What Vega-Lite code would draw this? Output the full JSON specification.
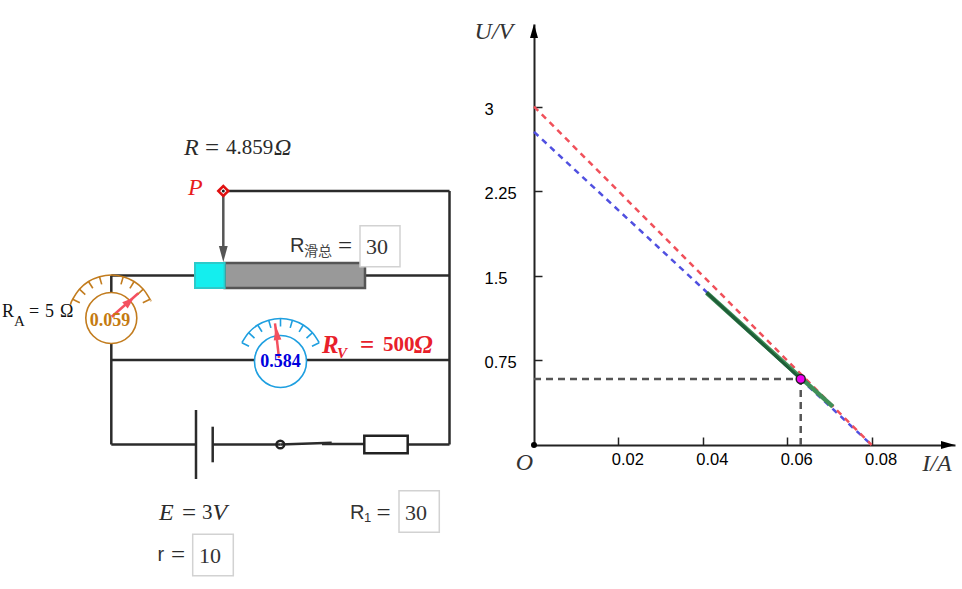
{
  "$schema": "https://vega.github.io/schema/vega-lite/v6.json",
  "description": "Rheostat circuit with ammeter and voltmeter beside its U-I graph",
  "width": 962,
  "height": 589,
  "padding": 0,
  "autosize": {"type": "fit", "contains": "padding"},
  "background": "white",
  "config": {"view": {"stroke": null}},
  "resolve": {"scale": {"x": "independent", "y": "independent"}},
  "datasets": {
    "wires": [
      {"u": 22.3, "v": 19.1, "u2": 44.95, "v2": 19.1},
      {"u": 44.95, "v": 19.1, "u2": 44.95, "v2": 44.45},
      {"u": 11.13, "v": 27.55, "u2": 19.5, "v2": 27.55},
      {"u": 36.5, "v": 27.55, "u2": 44.95, "v2": 27.55},
      {"u": 11.13, "v": 27.55, "u2": 11.13, "v2": 29.4},
      {"u": 11.13, "v": 34.3, "u2": 11.13, "v2": 44.45},
      {"u": 11.13, "v": 36.0, "u2": 25.45, "v2": 36.0},
      {"u": 30.65, "v": 36.0, "u2": 44.95, "v2": 36.0},
      {"u": 11.13, "v": 44.45, "u2": 19.6, "v2": 44.45},
      {"u": 19.6, "v": 41.0, "u2": 19.6, "v2": 47.9},
      {"u": 21.27, "v": 42.67, "u2": 21.27, "v2": 46.23},
      {"u": 21.27, "v": 44.45, "u2": 28.03, "v2": 44.45},
      {"u": 28.03, "v": 44.45, "u2": 33.17, "v2": 44.27},
      {"u": 32.2, "v": 44.4, "u2": 36.43, "v2": 44.4},
      {"u": 40.77, "v": 44.45, "u2": 44.95, "v2": 44.45}
    ],
    "slider": [{"u": 22.33, "v": 19.1, "u2": 22.33, "v2": 25}],
    "rheostat_bar": [{"u": 22.46, "v": 26.3, "u2": 36.5, "v2": 28.8}],
    "rheostat_part": [{"u": 19.5, "v": 26.3, "u2": 22.46, "v2": 28.8}],
    "slider_head": [{"u": 22.33, "v": 25.4}],
    "resistor": [{"u": 36.43, "v": 43.57, "u2": 40.77, "v2": 45.33}],
    "switch_pivot": [{"u": 28.03, "v": 44.45}],
    "p_node": [{"u": 22.33, "v": 19.1}],
    "input_boxes": [
      {"name": "R_total", "u": 36.0, "v": 22.57, "u2": 40.0, "v2": 26.67},
      {"name": "R1", "u": 39.9, "v": 49.07, "u2": 43.93, "v2": 53.23},
      {"name": "r", "u": 19.27, "v": 53.43, "u2": 23.33, "v2": 57.57}
    ],
    "ammeter_arc": [
      {"u": 7.04, "v": 30.47},
      {"u": 7.27, "v": 29.92},
      {"u": 7.94, "v": 28.92},
      {"u": 8.85, "v": 28.15},
      {"u": 9.95, "v": 27.67},
      {"u": 11.13, "v": 27.5},
      {"u": 12.32, "v": 27.67},
      {"u": 13.41, "v": 28.15},
      {"u": 14.33, "v": 28.92},
      {"u": 15.0, "v": 29.92},
      {"u": 15.06, "v": 30.05}
    ],
    "ammeter_ticks": [
      {"u": 7.27, "v": 29.92, "u2": 7.98, "v2": 30.27},
      {"u": 7.94, "v": 28.92, "u2": 8.53, "v2": 29.46},
      {"u": 8.85, "v": 28.15, "u2": 9.28, "v2": 28.83},
      {"u": 9.95, "v": 27.67, "u2": 10.17, "v2": 28.44},
      {"u": 12.32, "v": 27.67, "u2": 12.1, "v2": 28.44},
      {"u": 13.41, "v": 28.15, "u2": 12.99, "v2": 28.83},
      {"u": 14.33, "v": 28.92, "u2": 13.73, "v2": 29.46},
      {"u": 15.0, "v": 29.92, "u2": 14.28, "v2": 30.27}
    ],
    "ammeter_body": [{"u": 11.13, "v": 31.8}],
    "ammeter_needle": [{"u": 11.17, "v": 31.67, "u2": 13.83, "v2": 29.33}],
    "ammeter_head": [{"u": 12.95, "v": 30.15}],
    "voltmeter_arc": [
      {"u": 24.19, "v": 34.27},
      {"u": 24.86, "v": 33.27},
      {"u": 25.77, "v": 32.5},
      {"u": 26.87, "v": 32.02},
      {"u": 28.05, "v": 31.85},
      {"u": 29.24, "v": 32.02},
      {"u": 30.33, "v": 32.5},
      {"u": 31.25, "v": 33.27},
      {"u": 31.92, "v": 34.27}
    ],
    "voltmeter_ticks": [
      {"u": 24.19, "v": 34.27, "u2": 24.9, "v2": 34.62},
      {"u": 24.86, "v": 33.27, "u2": 25.45, "v2": 33.81},
      {"u": 25.77, "v": 32.5, "u2": 26.2, "v2": 33.18},
      {"u": 26.87, "v": 32.02, "u2": 27.09, "v2": 32.79},
      {"u": 28.05, "v": 31.85, "u2": 28.05, "v2": 32.65},
      {"u": 29.24, "v": 32.02, "u2": 29.02, "v2": 32.79},
      {"u": 30.33, "v": 32.5, "u2": 29.91, "v2": 33.18},
      {"u": 31.25, "v": 33.27, "u2": 30.65, "v2": 33.81},
      {"u": 31.92, "v": 34.27, "u2": 31.2, "v2": 34.62}
    ],
    "voltmeter_body": [{"u": 28.05, "v": 36.15}],
    "voltmeter_needle": [{"u": 27.9, "v": 35.8, "u2": 27.5, "v2": 32.33}],
    "voltmeter_head": [{"u": 27.67, "v": 33.3}],
    "math_italic": [
      {"u": 18.4, "v": 14.8, "label": "R"},
      {"u": 27.4, "v": 14.8, "label": "Ω"},
      {"u": 15.9, "v": 51.3, "label": "E"},
      {"u": 21.25, "v": 51.3, "label": "V"}
    ],
    "math_roman": [
      {"u": 22.6, "v": 14.8, "label": "4.859"},
      {"u": 20.2, "v": 51.3, "label": "3"}
    ],
    "math_equals": [
      {"u": 20.5, "v": 14.8, "label": "="},
      {"u": 18.2, "v": 51.3, "label": "="},
      {"u": 33.8, "v": 24.6, "label": "="},
      {"u": 37.65, "v": 51.3, "label": "="},
      {"u": 17.1, "v": 55.5, "label": "="}
    ],
    "box_values": [
      {"u": 37.7, "v": 24.7, "label": "30"},
      {"u": 41.6, "v": 51.27, "label": "30"},
      {"u": 21.0, "v": 55.6, "label": "10"}
    ],
    "sans_labels": [
      {"u": 29.0, "v": 24.6, "label": "R"},
      {"u": 35.0, "v": 51.3, "label": "R"},
      {"u": 15.75, "v": 55.5, "label": "r"}
    ],
    "sans_sub": [{"u": 36.77, "v": 51.77, "label": "1"}],
    "cjk_sub": [{"u": 30.4, "v": 25.2, "label": "滑总"}],
    "p_label": [{"u": 18.8, "v": 18.75, "label": "P"}],
    "rv_italic": [
      {"u": 32.2, "v": 34.5, "label": "R"},
      {"u": 41.4, "v": 34.5, "label": "Ω"}
    ],
    "rv_sub": [{"u": 33.7, "v": 35.3, "label": "V"}],
    "rv_equals": [{"u": 36.0, "v": 34.5, "label": "="}],
    "rv_roman": [{"u": 38.3, "v": 34.5, "label": "500"}],
    "ra_text": [
      {"u": 0.2, "v": 31.2, "label": "R"},
      {"u": 2.9, "v": 31.2, "label": "="},
      {"u": 4.5, "v": 31.2, "label": "5"},
      {"u": 6.0, "v": 31.2, "label": "Ω"}
    ],
    "ra_sub": [{"u": 1.4, "v": 32.1, "label": "A"}],
    "ammeter_value": [{"u": 11.0, "v": 32.1, "label": "0.059"}],
    "voltmeter_value": [{"u": 28.05, "v": 36.17, "label": "0.584"}],
    "red_line": [{"I": 0, "U": 3}, {"I": 0.08, "U": 0}],
    "blue_line": [{"I": 0, "U": 2.775}, {"I": 0.08, "U": 0}],
    "green_line": [{"I": 0.0409, "U": 1.35}, {"I": 0.0708, "U": 0.34}],
    "green_core": [{"I": 0.0409, "U": 1.35}, {"I": 0.0632, "U": 0.585}],
    "guide_h": [{"I": 0, "U": 0.585}, {"I": 0.0632, "U": 0.585}],
    "guide_v": [{"I": 0.0632, "U": 0}, {"I": 0.0632, "U": 0.585}],
    "operating_point": [{"I": 0.0632, "U": 0.585}],
    "origin": [{"I": 0, "U": 0}],
    "x_tip": [{"I": 0.0981, "U": 0}],
    "y_tip": [{"I": 0, "U": 3.67}],
    "axis_names": [
      {"I": -0.0095, "U": 3.66, "label": "U/V"},
      {"I": 0.0955, "U": -0.17, "label": "I/A"},
      {"I": -0.00225, "U": -0.16, "label": "O"}
    ]
  },
  "layer": [
    {
      "encoding": {
        "x": {"field": "u", "type": "quantitative", "axis": null, "scale": {"domain": [0, 96.2], "range": [0, 962], "nice": false, "zero": false}},
        "y": {"field": "v", "type": "quantitative", "axis": null, "scale": {"domain": [0, 58.9], "range": [0, 589], "nice": false, "zero": false}},
        "text": {"field": "label"}
      },
      "layer": [
        {"data": {"name": "wires"}, "mark": {"type": "rule", "stroke": "#2b2b2b", "strokeWidth": 2.5}, "encoding": {"x2": {"field": "u2"}, "y2": {"field": "v2"}}},
        {"data": {"name": "rheostat_bar"}, "mark": {"type": "rect", "fill": "#999999", "stroke": "#555555", "strokeWidth": 2.5}, "encoding": {"x2": {"field": "u2"}, "y2": {"field": "v2"}}},
        {"data": {"name": "rheostat_part"}, "mark": {"type": "rect", "fill": "#14eeee", "stroke": "#2ccaca", "strokeWidth": 2}, "encoding": {"x2": {"field": "u2"}, "y2": {"field": "v2"}}},
        {"data": {"name": "slider"}, "mark": {"type": "rule", "stroke": "#555555", "strokeWidth": 2.5}, "encoding": {"x2": {"field": "u2"}, "y2": {"field": "v2"}}},
        {"data": {"name": "slider_head"}, "mark": {"type": "point", "filled": true, "fill": "#555555", "opacity": 1, "size": 256, "shape": "M0,1L0.55,-1L-0.55,-1Z"}},
        {"data": {"name": "resistor"}, "mark": {"type": "rect", "fill": "white", "stroke": "#222222", "strokeWidth": 2.5}, "encoding": {"x2": {"field": "u2"}, "y2": {"field": "v2"}}},
        {"data": {"name": "switch_pivot"}, "mark": {"type": "point", "filled": false, "stroke": "#222222", "strokeWidth": 2.5, "opacity": 1, "size": 60, "shape": "circle"}},
        {"data": {"name": "p_node"}, "mark": {"type": "point", "filled": true, "fill": "white", "stroke": "#e01010", "strokeWidth": 2.5, "opacity": 1, "size": 100, "shape": "diamond"}},
        {"data": {"name": "p_node"}, "mark": {"type": "point", "filled": true, "fill": "#222222", "opacity": 1, "size": 9, "shape": "circle"}},
        {"data": {"name": "input_boxes"}, "mark": {"type": "rect", "fill": "white", "stroke": "#d2d2d2", "strokeWidth": 1.5}, "encoding": {"x2": {"field": "u2"}, "y2": {"field": "v2"}}},
        {"data": {"name": "ammeter_arc"}, "mark": {"type": "line", "stroke": "#c27c1e", "strokeWidth": 1.6, "interpolate": "cardinal"}},
        {"data": {"name": "ammeter_ticks"}, "mark": {"type": "rule", "stroke": "#c27c1e", "strokeWidth": 1.6}, "encoding": {"x2": {"field": "u2"}, "y2": {"field": "v2"}}},
        {"data": {"name": "ammeter_body"}, "mark": {"type": "point", "filled": true, "fill": "white", "stroke": "#c27c1e", "strokeWidth": 1.6, "opacity": 1, "size": 2601, "shape": "circle"}},
        {"data": {"name": "ammeter_needle"}, "mark": {"type": "rule", "stroke": "#f4505f", "strokeWidth": 2.5}, "encoding": {"x2": {"field": "u2"}, "y2": {"field": "v2"}}},
        {"data": {"name": "ammeter_head"}, "mark": {"type": "point", "filled": true, "fill": "#f4505f", "opacity": 1, "size": 144, "angle": 49, "shape": "M0,-1L0.7,1L-0.7,1Z"}},
        {"data": {"name": "voltmeter_arc"}, "mark": {"type": "line", "stroke": "#1e9fe0", "strokeWidth": 1.6, "interpolate": "cardinal"}},
        {"data": {"name": "voltmeter_ticks"}, "mark": {"type": "rule", "stroke": "#1e9fe0", "strokeWidth": 1.6}, "encoding": {"x2": {"field": "u2"}, "y2": {"field": "v2"}}},
        {"data": {"name": "voltmeter_body"}, "mark": {"type": "point", "filled": true, "fill": "white", "stroke": "#1e9fe0", "strokeWidth": 1.6, "opacity": 1, "size": 2704, "shape": "circle"}},
        {"data": {"name": "voltmeter_needle"}, "mark": {"type": "rule", "stroke": "#f4505f", "strokeWidth": 2.5}, "encoding": {"x2": {"field": "u2"}, "y2": {"field": "v2"}}},
        {"data": {"name": "voltmeter_head"}, "mark": {"type": "point", "filled": true, "fill": "#f4505f", "opacity": 1, "size": 196, "angle": -7, "shape": "M0,-1L0.55,1L-0.55,1Z"}},
        {"data": {"name": "math_italic"}, "mark": {"type": "text", "align": "left", "baseline": "middle", "font": "Liberation Serif", "fontStyle": "italic", "fontSize": 24, "color": "#2b2b2b"}},
        {"data": {"name": "math_roman"}, "mark": {"type": "text", "align": "left", "baseline": "middle", "font": "Liberation Serif", "fontSize": 21, "color": "#2b2b2b"}},
        {"data": {"name": "math_equals"}, "mark": {"type": "text", "align": "left", "baseline": "middle", "font": "Liberation Serif", "fontSize": 25, "color": "#2b2b2b"}},
        {"data": {"name": "box_values"}, "mark": {"type": "text", "align": "center", "baseline": "middle", "font": "Liberation Serif", "fontSize": 22, "color": "#333333"}},
        {"data": {"name": "sans_labels"}, "mark": {"type": "text", "align": "left", "baseline": "middle", "font": "Liberation Sans", "fontSize": 20, "color": "#333333"}},
        {"data": {"name": "sans_sub"}, "mark": {"type": "text", "align": "center", "baseline": "middle", "font": "Liberation Sans", "fontSize": 13, "color": "#333333"}},
        {"data": {"name": "cjk_sub"}, "mark": {"type": "text", "align": "left", "baseline": "middle", "font": "Noto Sans CJK SC", "fontSize": 14, "color": "#444444"}},
        {"data": {"name": "p_label"}, "mark": {"type": "text", "align": "left", "baseline": "middle", "font": "Liberation Serif", "fontStyle": "italic", "fontSize": 24, "color": "#e81c1c"}},
        {"data": {"name": "rv_italic"}, "mark": {"type": "text", "align": "left", "baseline": "middle", "font": "Liberation Serif", "fontStyle": "italic", "fontWeight": "bold", "fontSize": 25, "color": "#e8202a"}},
        {"data": {"name": "rv_sub"}, "mark": {"type": "text", "align": "left", "baseline": "middle", "font": "Liberation Serif", "fontStyle": "italic", "fontWeight": "bold", "fontSize": 15, "color": "#e8202a"}},
        {"data": {"name": "rv_equals"}, "mark": {"type": "text", "align": "left", "baseline": "middle", "font": "Liberation Serif", "fontWeight": "bold", "fontSize": 25, "color": "#e8202a"}},
        {"data": {"name": "rv_roman"}, "mark": {"type": "text", "align": "left", "baseline": "middle", "font": "Liberation Serif", "fontWeight": "bold", "fontSize": 21, "color": "#e8202a"}},
        {"data": {"name": "ra_text"}, "mark": {"type": "text", "align": "left", "baseline": "middle", "font": "Liberation Serif", "fontSize": 18, "color": "#111111"}},
        {"data": {"name": "ra_sub"}, "mark": {"type": "text", "align": "left", "baseline": "middle", "font": "Liberation Serif", "fontSize": 15, "color": "#111111"}},
        {"data": {"name": "ammeter_value"}, "mark": {"type": "text", "align": "center", "baseline": "middle", "font": "Liberation Serif", "fontWeight": "bold", "fontSize": 18, "color": "#c47a10"}},
        {"data": {"name": "voltmeter_value"}, "mark": {"type": "text", "align": "center", "baseline": "middle", "font": "Liberation Serif", "fontWeight": "bold", "fontSize": 18, "color": "#0000dd"}}
      ]
    },
    {
      "encoding": {
        "x": {
          "field": "I",
          "type": "quantitative",
          "scale": {"domain": [0, 0.09976], "range": [534, 955], "nice": false, "zero": false},
          "axis": {
            "orient": "bottom",
            "offset": -144,
            "title": null,
            "grid": false,
            "values": [0.02, 0.04, 0.06, 0.08],
            "format": ".2f",
            "domainColor": "#222222",
            "domainWidth": 2,
            "tickColor": "#222222",
            "tickWidth": 1.5,
            "tickSize": -8,
            "labelFont": "Liberation Sans",
            "labelFontSize": 16.5,
            "labelColor": "black",
            "labelAngle": 0,
            "labelOffset": 9,
            "labelPadding": 14,
            "labelOverlap": false,
            "labelFlush": false
          }
        },
        "y": {
          "field": "U",
          "type": "quantitative",
          "scale": {"domain": [0, 3.732], "range": [445, 24], "nice": false, "zero": false},
          "axis": {
            "orient": "left",
            "offset": -534,
            "title": null,
            "grid": false,
            "values": [0.75, 1.5, 2.25, 3],
            "labelExpr": "'' + datum.value",
            "domainColor": "#222222",
            "domainWidth": 2,
            "tickColor": "#222222",
            "tickWidth": 1.5,
            "tickSize": -8,
            "labelFont": "Liberation Sans",
            "labelFontSize": 16.5,
            "labelColor": "black",
            "labelAlign": "left",
            "labelOffset": 2.5,
            "labelPadding": 58,
            "labelOverlap": false,
            "labelFlush": false
          }
        },
        "text": {"field": "label"}
      },
      "layer": [
        {"data": {"name": "blue_line"}, "mark": {"type": "line", "stroke": "#5050e0", "strokeWidth": 2.5, "strokeDash": [6, 5]}},
        {"data": {"name": "red_line"}, "mark": {"type": "line", "stroke": "#f0505a", "strokeWidth": 2.5, "strokeDash": [6, 5]}},
        {"data": {"name": "green_line"}, "mark": {"type": "line", "stroke": "#3f8f58", "strokeWidth": 4.5}},
        {"data": {"name": "green_core"}, "mark": {"type": "line", "stroke": "#1f5f38", "strokeWidth": 3}},
        {"data": {"name": "guide_h"}, "mark": {"type": "line", "stroke": "#555555", "strokeWidth": 2.5, "strokeDash": [7, 5]}},
        {"data": {"name": "guide_v"}, "mark": {"type": "line", "stroke": "#555555", "strokeWidth": 2.5, "strokeDash": [7, 5]}},
        {"data": {"name": "operating_point"}, "mark": {"type": "point", "filled": true, "fill": "#f000f0", "stroke": "#222222", "strokeWidth": 1.5, "opacity": 1, "size": 81, "shape": "circle"}},
        {"data": {"name": "origin"}, "mark": {"type": "point", "filled": true, "fill": "black", "opacity": 1, "size": 36, "shape": "circle"}},
        {"data": {"name": "x_tip"}, "mark": {"type": "point", "filled": true, "fill": "black", "opacity": 1, "size": 196, "shape": "M1,0L-1,0.57L-1,-0.57Z"}},
        {"data": {"name": "y_tip"}, "mark": {"type": "point", "filled": true, "fill": "black", "opacity": 1, "size": 196, "shape": "M0,-1L0.57,1L-0.57,1Z"}},
        {"data": {"name": "axis_names"}, "mark": {"type": "text", "align": "center", "baseline": "middle", "font": "Liberation Serif", "fontStyle": "italic", "fontSize": 24, "color": "#333333"}}
      ]
    }
  ]
}
